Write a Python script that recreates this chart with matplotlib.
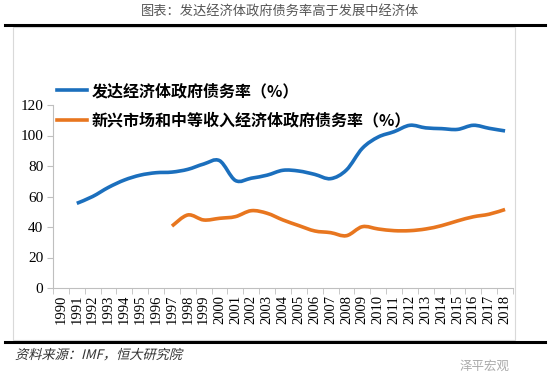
import matplotlib.pyplot as plt
import numpy as np
from matplotlib.font_manager import FontProperties
from matplotlib.lines import Line2D
from matplotlib.patches import PathPatch, Rectangle
from matplotlib.path import Path
from matplotlib.textpath import TextPath
from matplotlib.transforms import Affine2D

plt.rcParams['font.family'] = ['Noto Sans CJK SC', 'DejaVu Sans']

years = list(range(1990, 2019))
developed = [np.nan, 55.5, 60, 66, 70.8, 74, 75.6, 76, 77.8, 81.3, 83.5, 70.5, 72,
             74, 77.2, 76.7, 74.5, 71.7, 77.4, 91.6, 99, 102.5, 106.7, 105, 104.5,
             104, 106.7, 104.7, 103]
emerging = [np.nan] * 7 + [40.6, 47.9, 44.6, 45.7, 46.8, 50.7, 49, 44.6, 40.9, 37.4,
                           36.3, 34.3, 40.2, 38.7, 37.6, 37.6, 38.7, 40.9, 44, 46.7,
                           48.4, 51.5]
labels = ['发达经济体政府债务率（%）', '新兴市场和中等收入经济体政府债务率（%）']
colors = ['#1b6fbd', '#e8761f']
yticks = [0, 20, 40, 60, 80, 100, 120]

W, H = 550, 382


def smooth_path(xs, ys):
    """Catmull-Rom style bezier through the points, like Excel's smoothed line."""
    pts = np.array([(a, b) for a, b in zip(xs, ys) if not np.isnan(b)], dtype=float)
    verts = [pts[0]]
    codes = [Path.MOVETO]
    n = len(pts)
    for i in range(n - 1):
        p0 = pts[i - 1] if i > 0 else pts[i]
        p1, p2 = pts[i], pts[i + 1]
        p3 = pts[i + 2] if i + 2 < n else pts[i + 1]
        verts += [p1 + (p2 - p0) / 6, p2 - (p3 - p1) / 6, p2]
        codes += [Path.CURVE4] * 3
    return Path(verts, codes)


fig = plt.figure(figsize=(W / 100, H / 100), dpi=100)
fig.patch.set_facecolor('white')

# frame decorations
fig.text(280 / W, 1 - 12 / H, '图表：发达经济体政府债务率高于发展中经济体',
         ha='center', va='center', fontsize=9.5, color='#555555')
fig.add_artist(Line2D([5 / W, 545 / W], [1 - 25 / H, 1 - 25 / H], color='black', lw=2.2))
fig.add_artist(Line2D([5 / W, 545 / W], [1 - 342 / H, 1 - 342 / H], color='black', lw=2.2))
fig.add_artist(Rectangle((13 / W, 1 - 340 / H), 502 / W, 313 / H, fill=False,
                         edgecolor='#d9d9d9', lw=0.8))

# slanted source note (CJK fonts have no italic face)
src = TextPath((0, 0), '资料来源：IMF，恒大研究院', size=9.5,
               prop=FontProperties(family='Noto Sans CJK SC'))
src_tr = (Affine2D().skew_deg(14, 0).scale(1 / 72)
          .translate(15 / 100, (H - 359) / 100) + fig.dpi_scale_trans)
fig.add_artist(PathPatch(src, transform=src_tr, facecolor='#333333', edgecolor='none'))
fig.text(510 / W, 1 - 366 / H, '泽平宏观', ha='right', va='center', fontsize=9,
         color='#aaaaaa')

ax = fig.add_axes([53 / W, 1 - 288 / H, 460 / W, 183 / H])
x = np.arange(len(years))
for vals, c in zip([developed, emerging], colors):
    ax.add_patch(PathPatch(smooth_path(x, vals), facecolor='none', edgecolor=c,
                           lw=2.6, capstyle='butt'))

ax.set_xlim(-0.5, len(years) - 0.5)
ax.set_ylim(0, 120)
ax.set_yticks(yticks)
ax.set_yticklabels([str(v) for v in yticks], family='Liberation Serif', fontsize=11)
ax.set_xticks(x)
ax.set_xticklabels([str(y) for y in years], rotation=90, family='Liberation Serif',
                   fontsize=10.5)
ax.set_xticks(np.arange(-0.5, len(years)), minor=True)
ax.tick_params(axis='x', which='major', length=0, pad=5)
ax.tick_params(axis='x', which='minor', length=4, color='#bfbfbf', direction='out')
ax.tick_params(axis='y', length=4, color='#bfbfbf', pad=3)
for side in ['top', 'right']:
    ax.spines[side].set_visible(False)
for side in ['left', 'bottom']:
    ax.spines[side].set_color('#bfbfbf')

handles = [Line2D([], [], color=c, lw=2.6) for c in colors]
fig.legend(handles, labels, loc='upper left', bbox_to_anchor=(57 / W, 1 - 83 / H),
           frameon=False, handlelength=1.9, handletextpad=0.25, borderpad=0,
           borderaxespad=0, labelspacing=0.85,
           prop={'weight': 'bold', 'size': 11.5})

fig.savefig('out.png', dpi=100)
